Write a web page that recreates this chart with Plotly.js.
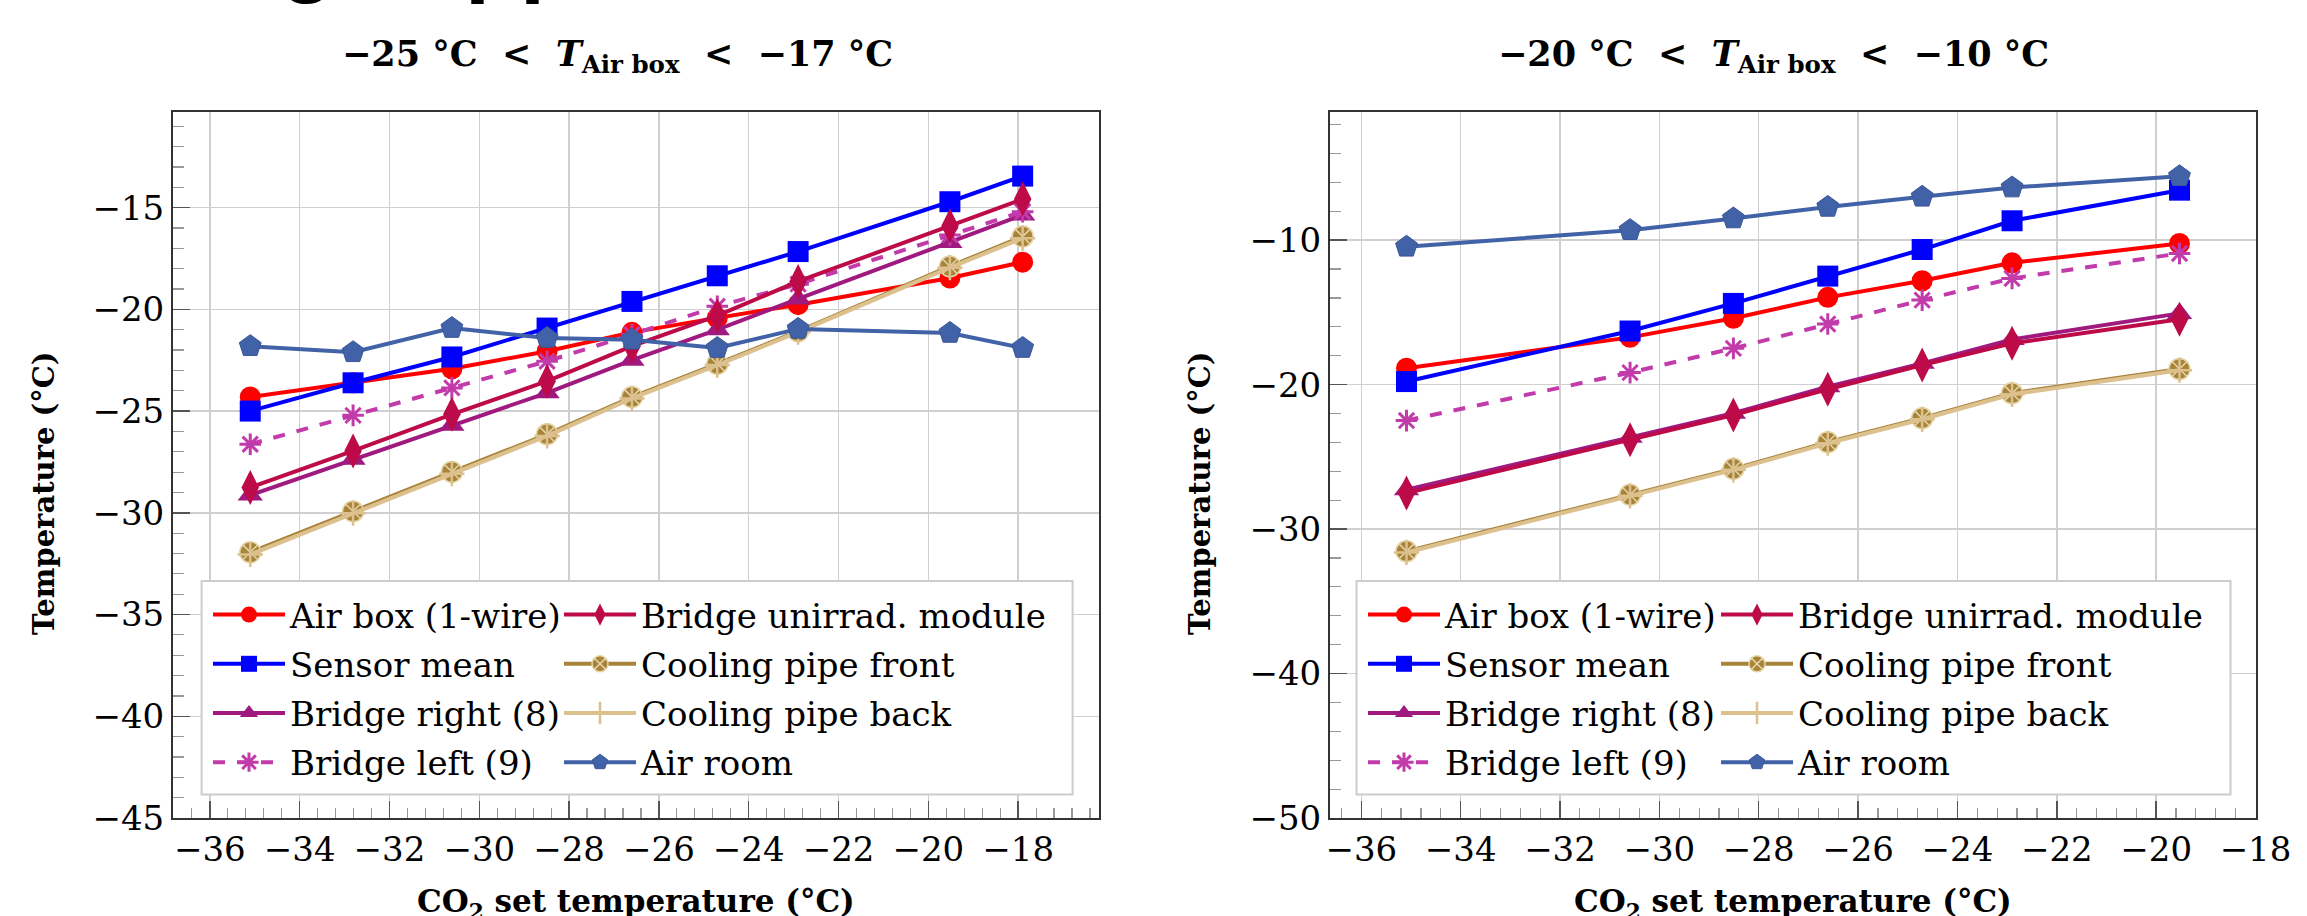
<!DOCTYPE html>
<html><head><meta charset="utf-8">
<script src="https://cdn.plot.ly/plotly-3.0.1.min.js"></script>
<style>html,body{margin:0;padding:0;background:#fff}#chart{width:2307px;height:916px}</style>
</head><body><div id="chart"></div>
<script>
// ---------- data ----------
const seriesNames = ["Air box (1-wire)", "Sensor mean", "Bridge right (8)", "Bridge left (9)",
                     "Bridge unirrad. module", "Cooling pipe front", "Cooling pipe back", "Air room"];

// left panel: -25 °C < T_Air box < -17 °C
const xLeft = [-35.10, -32.81, -30.61, -28.49, -26.60, -24.70, -22.90, -19.52, -17.90];
const leftAirBox       = [-24.31, -23.61, -22.92, -22.06, -21.13, -20.42, -19.77, -18.46, -17.68];
const leftSensorMean   = [-25.00, -23.61, -22.34, -20.92, -19.61, -18.35, -17.16, -14.71, -13.45];
const leftBridgeRight  = [-29.13, -27.37, -25.70, -24.10, -22.50, -21.00, -19.49, -16.72, -15.36];
const leftBridgeLeft   = [-26.63, -25.21, -23.86, -22.55, -21.24, -19.85, -18.76, -16.34, -15.20];
const leftBridgeUnirr  = [-28.76, -26.96, -25.16, -23.53, -21.81, -20.31, -18.63, -15.90, -14.58];
const leftCoolFront    = [-31.94, -29.93, -27.99, -26.14, -24.31, -22.68, -21.08, -17.89, -16.42];
const leftCoolBack     = [-32.05, -30.02, -28.08, -26.22, -24.38, -22.74, -21.12, -17.95, -16.50];
const leftAirRoom      = [-21.81, -22.11, -20.92, -21.41, -21.49, -21.90, -20.96, -21.16, -21.90];

// right panel: -20 °C < T_Air box < -10 °C
const xRight = [-35.09, -30.59, -28.51, -26.61, -24.71, -22.90, -19.53];
const rightAirBox      = [-18.87, -16.73, -15.41, -13.96, -12.81, -11.57, -10.23];
const rightSensorMean  = [-19.79, -16.29, -14.38, -12.49, -10.65, -8.66, -6.54];
const rightBridgeRight = [-27.28, -23.64, -21.98, -20.14, -18.53, -16.87, -15.07];
const rightBridgeLeft  = [-22.49, -19.17, -17.49, -15.81, -14.15, -12.65, -10.92];
const rightBridgeUnirr = [-27.51, -23.82, -22.10, -20.32, -18.64, -17.14, -15.48];
const rightCoolFront   = [-31.54, -27.63, -25.83, -23.99, -22.33, -20.60, -18.92];
const rightCoolBack    = [-31.62, -27.70, -25.90, -24.06, -22.40, -20.67, -19.00];
const rightAirRoom     = [-10.46, -9.31, -8.50, -7.70, -7.00, -6.36, -5.58];

const NB = "\u00a0";
const leftTitle  = "<b>−25 °C " + NB + "< " + NB + "<i>T</i><sub>Air box</sub> " + NB + "< " + NB + "−17 °C</b>";
const rightTitle = "<b>−20 °C " + NB + "< " + NB + "<i>T</i><sub>Air box</sub> " + NB + "< " + NB + "−10 °C</b>";
const xTitle = "<b>CO<sub>2</sub> set temperature (°C)</b>";
const yTitle = "<b>Temperature (°C)</b>";
const headline = "Cooling support";

// ---------- styles ----------
const FONT = "DejaVu Serif";
const styles = [
  {color:"#ff0000", symbol:"circle", size:21, dash:"solid", lc:"#ff0000", lw:0},
  {color:"#0000ff", symbol:"square", size:21, dash:"solid", lc:"#0000ff", lw:0},
  {color:"#a0197f", symbol:"triangle-up", size:22, dash:"solid", lc:"#a0197f", lw:0},
  {color:"#c23bab", symbol:"asterisk", size:18, dash:"dash", lc:"#c23bab", lw:3},
  {color:"#bd0a48", symbol:"diamond-tall", size:25, dash:"solid", lc:"#bd0a48", lw:0},
  {color:"#a8843a", symbol:"circle-x", size:21, dash:"solid", lc:"#e6d5a8", lw:1.5},
  {color:"#dcc08e", symbol:"cross-thin", size:18, dash:"solid", lc:"#dcc08e", lw:2.5},
  {color:"#4262a8", symbol:"pentagon", size:23, dash:"solid", lc:"#3a5797", lw:1}
];
const leftSets  = [leftAirBox, leftSensorMean, leftBridgeRight, leftBridgeLeft, leftBridgeUnirr, leftCoolFront, leftCoolBack, leftAirRoom];
const rightSets = [rightAirBox, rightSensorMean, rightBridgeRight, rightBridgeLeft, rightBridgeUnirr, rightCoolFront, rightCoolBack, rightAirRoom];

function mk(xs, ys, i, xa, ya, leg, side) {
  const s = styles[i];
  return {
    x: xs, y: ys, xaxis: xa, yaxis: ya, type: "scatter", mode: "lines+markers",
    name: seriesNames[i], legend: leg, legendgroup: side + i, showlegend: true,
    line: {color: s.color, width: 4, dash: s.dash},
    marker: {symbol: s.symbol, size: s.size, color: s.color, line: {color: s.lc, width: s.lw}},
    hoverinfo: "x+y+name"
  };
}
const traces = [];
leftSets.forEach((ys, i) => traces.push(mk(xLeft, ys, i, "x", "y", i < 4 ? "legend" : "legend2", "L")));
rightSets.forEach((ys, i) => traces.push(mk(xRight, ys, i, "x2", "y2", i < 4 ? "legend3" : "legend4", "R")));

const W = 2307, H = 916;
const px = v => v / W, py = v => 1 - v / H;

function xax(domain, range) {
  return {
    domain: domain, range: range, dtick: 2, tick0: 0, ticks: "inside", ticklen: 17, tickwidth: 1.5,
    tickcolor: "#555", showline: true, linecolor: "#333", linewidth: 2, mirror: true,
    showgrid: true, gridcolor: "#cfcfcf", gridwidth: 1.5, zeroline: false, automargin: false,
    tickfont: {family: FONT, size: 34, color: "#000"},
    minor: {dtick: 0.4, ticks: "inside", ticklen: 10, tickwidth: 1.2, tickcolor: "#999", showgrid: false}
  };
}
function yax(domain, range, dt, mdt, anchor) {
  return {
    domain: domain, range: range, dtick: dt, tick0: 0, ticks: "inside", ticklen: 17, tickwidth: 1.5,
    tickcolor: "#555", showline: true, linecolor: "#333", linewidth: 2, mirror: true, anchor: anchor,
    showgrid: true, gridcolor: "#cfcfcf", gridwidth: 1.5, zeroline: false, automargin: false,
    tickfont: {family: FONT, size: 34, color: "#000"},
    minor: {dtick: mdt, ticks: "inside", ticklen: 11, tickwidth: 1.2, tickcolor: "#999", showgrid: false}
  };
}
const yDom = [py(818), py(112)];
function legendAt(x, y) {
  return {x: px(x), y: py(y), xanchor: "left", yanchor: "top", orientation: "v",
    bgcolor: "rgba(0,0,0,0)", borderwidth: 0, itemwidth: 72, tracegroupgap: 2,
    font: {family: FONT, size: 34, color: "#000"}, itemclick: false, itemdoubleclick: false};
}
const ann = (text, x, y, size, angle, extra) => Object.assign({
  text: text, xref: "paper", yref: "paper", x: px(x), y: py(y), showarrow: false,
  xanchor: "center", yanchor: "middle", textangle: angle || 0,
  font: {family: FONT, size: size, color: "#000"}
}, extra || {});

const layout = {
  width: W, height: H, margin: {l: 0, r: 0, t: 0, b: 0},
  paper_bgcolor: "#fff", plot_bgcolor: "#fff", showlegend: true,
  xaxis: xax([px(173), px(1099)], [-36.82, -16.2]),
  yaxis: yax(yDom, [-45, -10.3], 5, 1, "x"),
  xaxis2: Object.assign(xax([px(1330), px(2256)], [-36.63, -17.99]), {anchor: "y2"}),
  yaxis2: yax(yDom, [-50, -1.13], 10, 2, "x2"),
  legend: legendAt(208, 586),
  legend2: legendAt(559, 586),
  legend3: legendAt(1363, 586),
  legend4: legendAt(1716, 586),
  shapes: [
    {type: "rect", xref: "paper", yref: "paper", x0: px(201.6), x1: px(1072.6), y0: py(794.5), y1: py(581),
     fillcolor: "#fff", line: {color: "#cccccc", width: 2}, layer: "above"},
    {type: "rect", xref: "paper", yref: "paper", x0: px(1356.5), x1: px(2230.5), y0: py(794.5), y1: py(581),
     fillcolor: "#fff", line: {color: "#cccccc", width: 2}, layer: "above"}
  ],
  annotations: [
    ann(leftTitle, 617, 56, 35),
    ann(rightTitle, 1773, 56, 35),
    ann(yTitle, 44, 493, 29, -90),
    ann(yTitle, 1200, 493, 29, -90),
    ann(xTitle, 636, 903, 31),
    ann(xTitle, 1793, 903, 31),
    ann(headline, -2, -46, 90, 0, {xanchor: "left", font: {family: "Liberation Sans", size: 90, color: "#000", weight: "bold"}})
  ]
};
Plotly.newPlot("chart", traces, layout, {staticPlot: true, displayModeBar: false});
</script></body></html>
